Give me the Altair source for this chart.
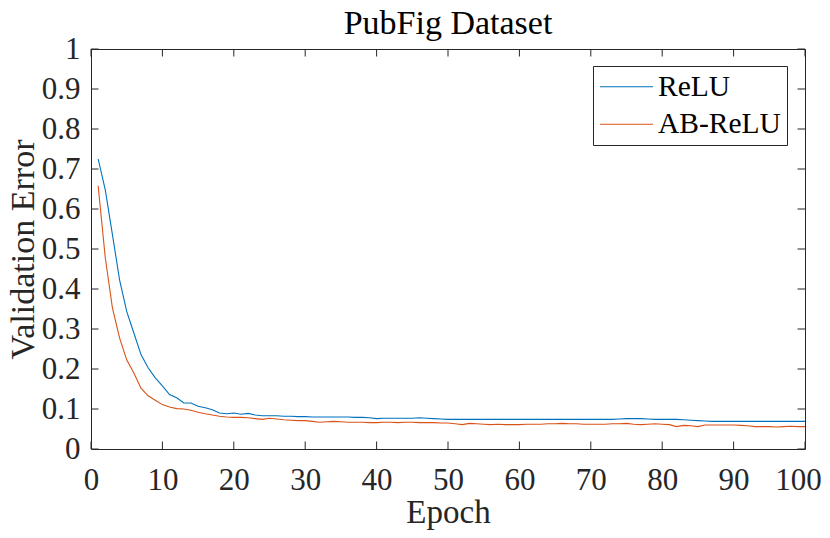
import altair as alt
import pandas as pd

# ---------------- data ----------------
epochs = list(range(1, 101))

relu = [
    0.725, 0.648, 0.536, 0.423, 0.344, 0.290, 0.236, 0.203, 0.178, 0.158,
    0.136, 0.128, 0.115, 0.115, 0.107, 0.103, 0.098, 0.090, 0.088, 0.090,
    0.087, 0.089, 0.085, 0.083, 0.083, 0.083, 0.082, 0.082, 0.081, 0.081,
    0.080, 0.080, 0.080, 0.080, 0.080, 0.080, 0.079, 0.079, 0.078, 0.076,
    0.077, 0.077, 0.077, 0.077, 0.077, 0.078, 0.077, 0.076, 0.075, 0.074,
    0.074, 0.074, 0.074, 0.074, 0.074, 0.074, 0.074, 0.074, 0.074, 0.074,
    0.074, 0.074, 0.074, 0.074, 0.074, 0.074, 0.074, 0.074, 0.074, 0.074,
    0.074, 0.074, 0.074, 0.075, 0.076, 0.076, 0.076, 0.075, 0.074, 0.074,
    0.074, 0.074, 0.073, 0.072, 0.071, 0.070, 0.069, 0.069, 0.069, 0.069,
    0.069, 0.069, 0.069, 0.069, 0.069, 0.069, 0.069, 0.069, 0.069, 0.069,
]

ab_relu = [
    0.658, 0.478, 0.353, 0.278, 0.223, 0.190, 0.152, 0.133, 0.122, 0.111,
    0.105, 0.101, 0.100, 0.097, 0.092, 0.088, 0.085, 0.082, 0.080, 0.079,
    0.079, 0.078, 0.076, 0.074, 0.077, 0.075, 0.073, 0.072, 0.071, 0.071,
    0.069, 0.067, 0.068, 0.069, 0.068, 0.067, 0.067, 0.067, 0.066, 0.066,
    0.067, 0.067, 0.066, 0.067, 0.067, 0.066, 0.066, 0.066, 0.065, 0.065,
    0.063, 0.061, 0.064, 0.063, 0.062, 0.061, 0.062, 0.061, 0.061, 0.061,
    0.062, 0.062, 0.062, 0.063, 0.063, 0.064, 0.063, 0.063, 0.062, 0.062,
    0.062, 0.062, 0.063, 0.063, 0.064, 0.062, 0.061, 0.062, 0.063, 0.062,
    0.061, 0.056, 0.059, 0.058, 0.056, 0.060, 0.060, 0.060, 0.060, 0.060,
    0.059, 0.058, 0.056, 0.056, 0.056, 0.055, 0.056, 0.057, 0.056, 0.056,
]

series_names = ["ReLU", "AB-ReLU"]
series_colors = ["#0072BD", "#D95319"]

x_ticks = list(range(0, 101, 10))
y_ticks = [round(i * 0.1, 1) for i in range(11)]

df = pd.DataFrame({
    "epoch": epochs * 2,
    "value": relu + ab_relu,
    "series": [series_names[0]] * len(relu) + [series_names[1]] * len(ab_relu),
})
xt_df = pd.DataFrame({"epoch": x_ticks})
yt_df = pd.DataFrame({"value": y_ticks})

# ---------------- style ----------------
W, H = 714, 400
FONT = "Liberation Serif, Times New Roman, Times, DejaVu Serif, serif"
AXC = "#262626"
TICK = 7.5

xscale = alt.Scale(domain=[0, 100], nice=False, zero=False)
yscale = alt.Scale(domain=[0, 1], nice=False)

xaxis = alt.Axis(
    values=x_ticks, format="d", tickSize=0, domain=False, grid=False,
    labelFont=FONT, labelFontSize=31, labelColor=AXC,
    labelBaseline="alphabetic", labelPadding=40,
    labelFlush=False, labelOverlap=False,
    labelOffset={"condition": {"test": "datum.value == 100", "value": -7}, "value": 0},
    title="Epoch", titleFont=FONT, titleFontSize=33, titleFontWeight="normal",
    titleColor=AXC, titleX=W / 2, titleY=73.5, titleBaseline="alphabetic",
    titleAlign="center",
)
yaxis = alt.Axis(
    values=y_ticks, format="~g", tickSize=0, domain=False, grid=False,
    labelFont=FONT, labelFontSize=31, labelColor=AXC, labelPadding=11,
    labelFlush=False, labelOverlap=False,
    title="Validation Error", titleFont=FONT, titleFontSize=34,
    titleFontWeight="normal", titleColor=AXC, titleX=-58, titleY=H / 2,
    titleBaseline="alphabetic", titleAlign="center",
)

X = alt.X("epoch:Q", scale=xscale, axis=xaxis)
Y = alt.Y("value:Q", scale=yscale, axis=yaxis)

lines = alt.Chart(df).mark_line(strokeWidth=1.1).encode(
    x=X,
    y=Y,
    color=alt.Color(
        "series:N",
        scale=alt.Scale(domain=series_names, range=series_colors),
        sort=series_names,
        legend=alt.Legend(
            title=None, orient="none", legendX=502, legendY=17, padding=6,
            fillColor="white", strokeColor=AXC,
            symbolType="M-1.058,0H3.02", symbolSize=676, symbolStrokeWidth=1,
            labelFont=FONT, labelFontSize=29.5, labelColor="black",
            labelOffset=29.5, rowPadding=6.5,
        ),
    ),
)

tick_left = alt.Chart(yt_df).mark_rule(color=AXC, strokeWidth=1).encode(
    y=Y, x=alt.value(0), x2=alt.value(TICK))
tick_right = alt.Chart(yt_df).mark_rule(color=AXC, strokeWidth=1).encode(
    y=Y, x=alt.value(W - TICK), x2=alt.value(W))
tick_bottom = alt.Chart(xt_df).mark_rule(color=AXC, strokeWidth=1).encode(
    x=X, y=alt.value(H - TICK), y2=alt.value(H))
tick_top = alt.Chart(xt_df).mark_rule(color=AXC, strokeWidth=1).encode(
    x=X, y=alt.value(0), y2=alt.value(TICK))

chart = alt.layer(lines, tick_left, tick_right, tick_bottom, tick_top).properties(
    width=W, height=H,
    title=alt.TitleParams(
        "PubFig Dataset", font=FONT, fontSize=34, fontWeight="normal",
        color="black", anchor="middle", offset=6, dy=13.5,
    ),
    autosize="none",
    padding={"left": 83, "top": 41, "right": 17, "bottom": 81},
).configure_view(stroke=AXC, strokeWidth=1)

chart.save("out.html", embed_options={"renderer": "svg", "actions": False})
